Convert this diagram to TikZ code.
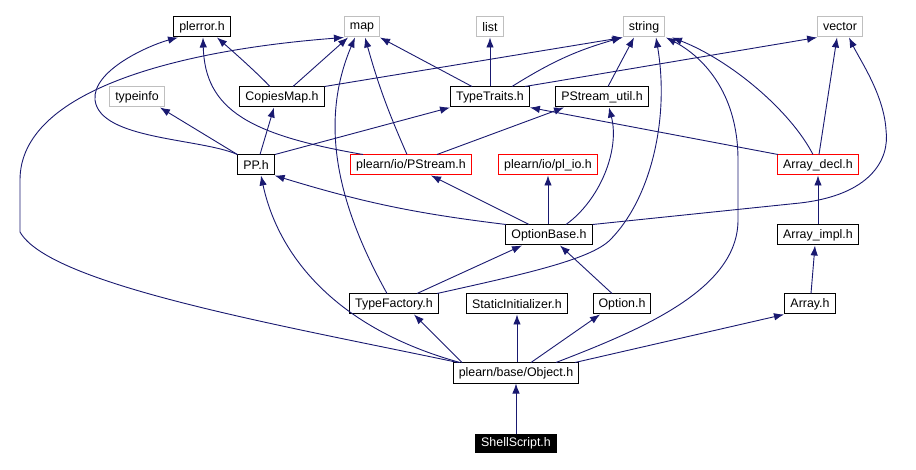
\documentclass[tikz,border=0pt]{standalone}
\usepackage{fontspec}
\setmainfont{Liberation Sans}
\usepackage{xcolor}
\usetikzlibrary{arrows.meta}
\definecolor{depblue}{RGB}{25,25,112}
\definecolor{sysgrey}{RGB}{191,191,191}
\definecolor{truncred}{RGB}{255,0,0}
\tikzset{
  hdr/.style     = {rectangle, draw=black, line width=1pt, fill=white, text=black,
                    minimum height=20pt, inner xsep=5.5pt, inner ysep=0pt,
                    font=\fontsize{12.4}{14}\selectfont},
  sysfile/.style = {hdr, draw=sysgrey},
  trunc/.style   = {hdr, draw=truncred},
  cur/.style     = {hdr, draw=black, fill=black, text=white, minimum height=18pt},
  dep/.style     = {-{Latex[length=10pt,width=7.5pt]}, line width=0.9pt, draw=depblue},
}
\begin{document}
\begin{tikzpicture}[x=1pt,y=-1pt]
\useasboundingbox (0,0) rectangle (916,470);

% ---------- Top row: system headers ----------
\node[hdr]     (plerror) at (202,27) {plerror.h};
\node[sysfile] (map)     at (362,27) {map};
\node[sysfile] (list)    at (490,27) {list};
\node[sysfile] (string)  at (644,27) {string};
\node[sysfile] (vector)  at (840,27) {vector};

% ---------- Second row ----------
\node[sysfile] (typeinfo) at (137,97) {typeinfo};
\node[hdr]     (cmap)     at (282,97) {CopiesMap.h};
\node[hdr]     (ttraits)  at (490,97) {TypeTraits.h};
\node[hdr]     (psutil)   at (602,97) {PStream\_util.h};

% ---------- Third row ----------
\node[hdr]   (pp)      at (256,165) {PP.h};
\node[trunc] (pstream) at (411,165) {plearn/io/PStream.h};
\node[trunc] (plio)    at (548,165) {plearn/io/pl\_io.h};
\node[trunc] (adecl)   at (818,165) {Array\_decl.h};

% ---------- Fourth row ----------
\node[hdr] (oben)  at (549,235) {OptionBase.h};
\node[hdr] (aimpl) at (818,235) {Array\_impl.h};

% ---------- Fifth row ----------
\node[hdr] (tfac)   at (394,304) {TypeFactory.h};
\node[hdr] (static) at (517,304) {StaticInitializer.h};
\node[hdr] (option) at (622,304) {Option.h};
\node[hdr] (array)  at (810,304) {Array.h};

% ---------- Bottom ----------
\node[hdr] (obj)   at (516,373) {plearn/base/Object.h};
\node[cur] (shell) at (516,443) {ShellScript.h};

% ---------- Edges: Object.h ----------
\draw[dep] (shell) -- (obj);
\draw[dep] ([xshift=-54pt]obj.north) -- ([xshift=20pt]tfac.south);
\draw[dep] ([xshift=1pt]obj.north) -- (static.south);
\draw[dep] ([xshift=15pt]obj.north) -- ([xshift=-22pt]option.south);
\draw[dep] ([xshift=59pt]obj.north) -- ([xshift=-26pt]array.south);
\draw[dep] ([xshift=40pt]obj.north) .. controls (640,330) and (738,290) .. (738,220)
  -- (738,160) .. controls (738,90) and (700,55) .. ([xshift=22pt]string.south);
\draw[dep] ([xshift=-56pt]obj.north) .. controls (335,328) and (278,255) .. ([xshift=5pt]pp.south);
\draw[dep] ([xshift=-58pt]obj.north) .. controls (280,325) and (50,285) .. (20,232)
  -- (20,180) .. controls (20,90) and (180,50) .. (map.south west);

% ---------- Edges: second and third rows ----------
\draw[dep] (pp.north west) .. controls (200,138) and (100,140) .. (95,100)
  .. controls (92,70) and (150,45) .. ([xshift=-24pt]plerror.south);
\draw[dep] (pp.north west) -- ([xshift=23pt]typeinfo.south);
\draw[dep] ([xshift=4pt]pp.north) -- ([xshift=-8pt]cmap.south);
\draw[dep] ([xshift=19pt]pp.north) -- ([xshift=-40pt]ttraits.south);
\draw[dep] ([xshift=-48pt]pstream.north) .. controls (250,135) and (205,110) .. ([xshift=1pt]plerror.south);
\draw[dep] ([xshift=-4pt]pstream.north) to[bend left=4] ([xshift=3pt]map.south);
\draw[dep] ([xshift=26pt]pstream.north) -- ([xshift=-38pt]psutil.south);
\draw[dep] ([xshift=-12pt]cmap.north) .. controls (262,78) and (245,62) .. ([xshift=15pt]plerror.south);
\draw[dep] ([xshift=11pt]cmap.north) -- ([xshift=-14pt]map.south);
\draw[dep] (cmap.north east) -- (string.south west);
\draw[dep] ([xshift=-18pt]ttraits.north) -- (map.south east);
\draw[dep] (ttraits.north) -- (list.south);
\draw[dep] ([xshift=22pt]ttraits.north) to[bend left=8] ([xshift=-22pt]string.south);
\draw[dep] ([xshift=35pt]ttraits.north) -- (vector.south west);
\draw[dep] ([xshift=6pt]psutil.north) -- ([xshift=-10pt]string.south);
\draw[dep] ([xshift=-40pt]adecl.north) -- (ttraits.south east);
\draw[dep] ([xshift=-5pt]adecl.north) .. controls (790,110) and (730,60) .. ([xshift=28pt]string.south);
\draw[dep] ([xshift=1pt]adecl.north) -- ([xshift=-3pt]vector.south);

% ---------- Edges: OptionBase.h and arrays ----------
\draw[dep] ([xshift=-1pt]oben.north) -- (plio.south);
\draw[dep] ([xshift=-20pt]oben.north) -- ([xshift=20pt]pstream.south);
\draw[dep] ([xshift=-43pt]oben.north) to[bend left=5] (pp.south east);
\draw[dep] ([xshift=17pt]oben.north) .. controls (600,200) and (620,150) .. ([xshift=7pt]psutil.south);
\draw[dep] (oben.north east) -- (800,203) .. controls (870,195) and (890,160) .. (886,130)
  .. controls (884,95) and (860,60) .. ([xshift=9pt]vector.south);
\draw[dep] ([xshift=-10pt]option.north) -- ([xshift=11pt]oben.south);
\draw[dep] ([xshift=23pt]tfac.north) -- ([xshift=-27pt]oben.south);
\draw[dep] ([xshift=-7pt]tfac.north) .. controls (335,200) and (320,120) .. ([xshift=-7pt]map.south);
\draw[dep] ([xshift=43pt]tfac.north) .. controls (520,275) and (590,260) .. (610,240)
  .. controls (650,200) and (670,120) .. ([xshift=12pt]string.south);
\draw[dep] (aimpl.north) -- (adecl.south);
\draw[dep] ([xshift=1pt]array.north) -- ([xshift=-3pt]aimpl.south);

\end{tikzpicture}
\end{document}
